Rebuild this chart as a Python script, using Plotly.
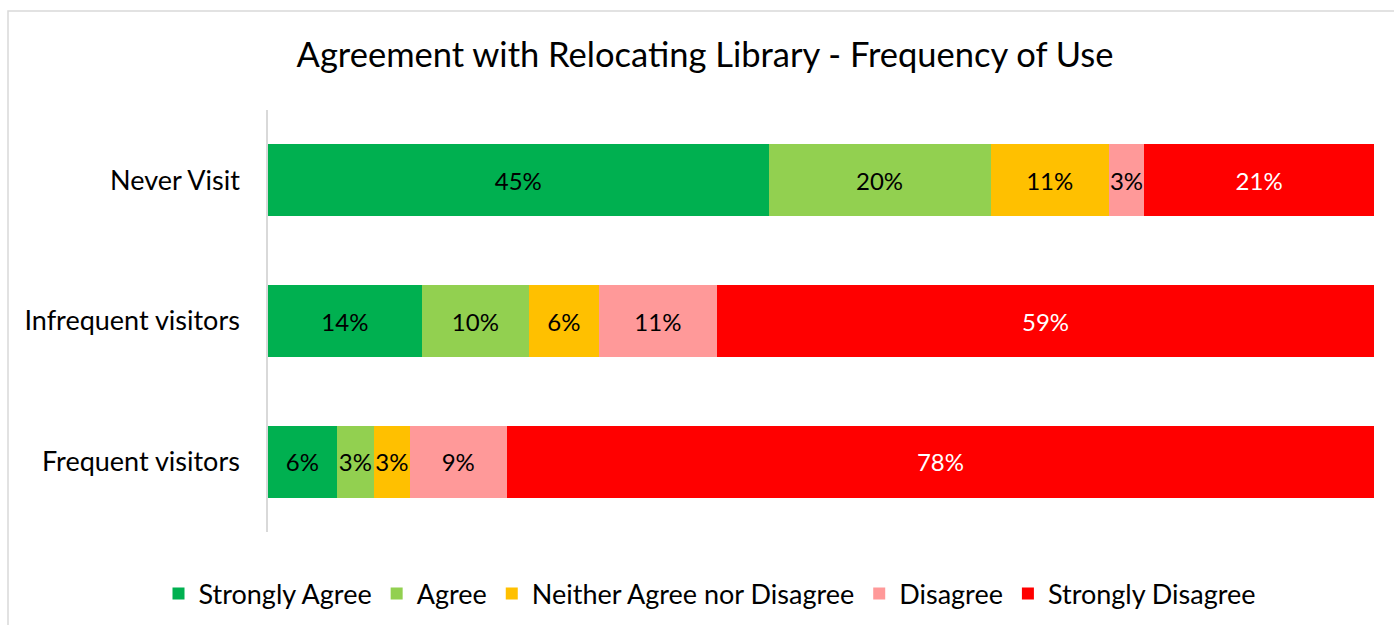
import plotly.graph_objects as go

categories = ["Never Visit", "Infrequent visitors", "Frequent visitors"]
series_names = ["Strongly Agree", "Agree", "Neither Agree nor Disagree", "Disagree", "Strongly Disagree"]
strongly_agree = [45.3, 13.9, 6.2]
agree = [20.1, 9.7, 3.4]
neither = [10.7, 6.3, 3.2]
disagree = [3.2, 10.7, 8.8]
strongly_disagree = [20.8, 59.4, 78.4]

series_values = [strongly_agree, agree, neither, disagree, strongly_disagree]
colors = ["#00B050", "#92D050", "#FFC000", "#FF9999", "#FF0000"]
text_colors = ["#000000", "#000000", "#000000", "#000000", "#FFFFFF"]

FONT = "Lato, 'Open Sans', sans-serif"

fig = go.Figure()
for name, vals, c, tc in zip(series_names, series_values, colors, text_colors):
    fig.add_trace(go.Bar(
        y=categories, x=vals, name=name, orientation="h",
        marker=dict(color=c, line=dict(width=0)),
        texttemplate="%{x:.0f}%", textposition="inside", textangle=0,
        insidetextanchor="middle", constraintext="none",
        textfont=dict(color=tc, size=24, family=FONT),
        cliponaxis=False, hoverinfo="skip",
    ))

W, H = 1394, 625
ml, mr, mt, mb = 268, 20, 110, 93
pw, ph = W - ml - mr, H - mt - mb

def px_x(p):
    return (p - ml) / pw

def px_y(p):
    return (H - mb - p) / ph

fig.add_shape(type="rect", xref="paper", yref="paper",
              x0=px_x(8), x1=px_x(1410), y0=px_y(11), y1=px_y(640),
              line=dict(color="#D9D9D9", width=1.5), fillcolor="rgba(0,0,0,0)", layer="below")

fig.update_layout(
    width=W, height=H,
    margin=dict(l=ml, r=mr, t=mt, b=mb, autoexpand=False),
    barmode="stack", barnorm="percent", bargap=0.49,
    paper_bgcolor="white", plot_bgcolor="white",
    font=dict(family=FONT, color="#000000"),
    title=dict(text="Agreement with Relocating Library - Frequency of Use",
               x=705 / W, xanchor="center", y=1 - 55 / H, yanchor="middle",
               font=dict(size=34.5, family=FONT, color="#000000")),
    xaxis=dict(range=[0, 100], showgrid=False, showticklabels=False, zeroline=False,
               showline=False, ticks=""),
    yaxis=dict(autorange="reversed", showgrid=False, zeroline=False,
               showline=True, linecolor="#D9D9D9", linewidth=1.5,
               ticks="", ticklabelstandoff=21,
               tickfont=dict(size=27, family=FONT, color="#000000")),
    legend=dict(orientation="h", x=710 / W, xanchor="center",
                xref="container", yref="container", y=1 - 594 / H, yanchor="middle",
                font=dict(size=27, family=FONT, color="#000000"),
                traceorder="normal", itemwidth=30, tracegroupgap=0),
    showlegend=True,
)

fig.write_html("out.html", config={"displayModeBar": False},
               post_script="document.body.style.margin='0';")
